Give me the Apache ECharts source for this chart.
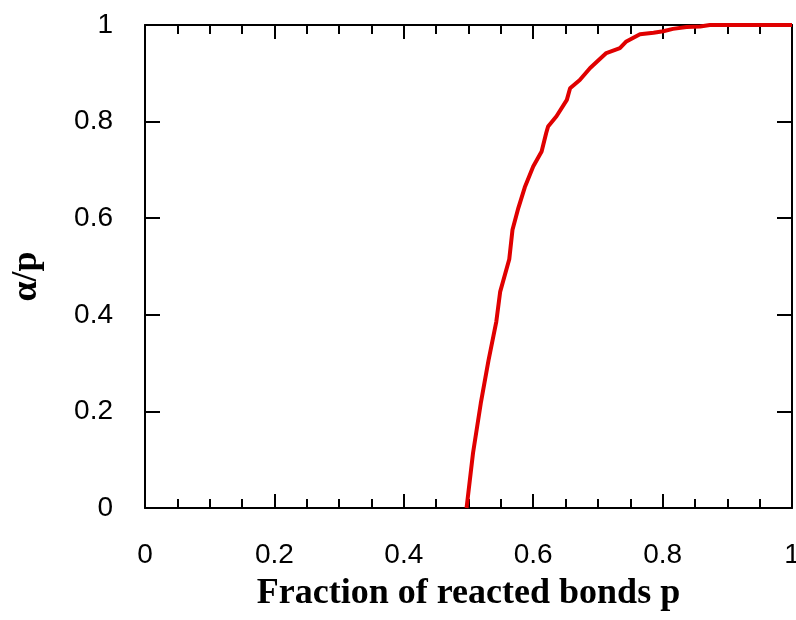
<!DOCTYPE html>
<html><head><meta charset="utf-8">
<script src="https://cdn.jsdelivr.net/npm/echarts@6/dist/echarts.min.js"></script>
<style>html,body{margin:0;padding:0;background:#fff}#c{width:796px;height:620px}</style>
</head><body><div id="c"></div>
<script>
var pValues = [0.497,0.507,0.519,0.531,0.543,0.549,0.563,0.568,0.577,0.587,0.600,0.613,0.620,0.623,0.636,0.652,0.657,0.672,0.688,0.713,0.734,0.744,0.765,0.786,0.801,0.816,0.837,0.858,0.873,0.9,0.95,1.0];
var alphaOverP = [0,0.114,0.217,0.306,0.386,0.448,0.515,0.576,0.621,0.664,0.707,0.738,0.776,0.790,0.811,0.845,0.869,0.886,0.911,0.942,0.952,0.966,0.981,0.984,0.987,0.992,0.996,0.997,1.0,1.0,1.0,1.0];
var xTitle = 'Fraction of reacted bonds p';
var yTitle = 'α/p';

var chart = echarts.init(document.getElementById('c'));
var data = pValues.map(function(p,i){return [p, alphaOverP[i]];});
var lineStyle = {color:'#000', width:2};
var tickStyle = {color:'#000', width:2};
var labelFont = 'Liberation Sans, Arial, sans-serif';
var titleFont = 'Liberation Serif, Times New Roman, serif';
function fmt(v){return String(Math.round(v*10)/10);}
function xAxis(show, pos){
  return {type:'value', min:0, max:1, interval:0.2, position:pos,
    axisLine:{show:true, onZero:false, lineStyle:lineStyle},
    axisTick:{show:true, inside:true, length:14, lineStyle:tickStyle},
    minorTick:{show:true, splitNumber:4, length:9, lineStyle:{color:'#000', width:2}},
    splitLine:{show:false},
    axisLabel:{show:show, color:'#000', fontSize:28, fontFamily:labelFont, margin:33, formatter:fmt},
    name: show ? xTitle : '', nameLocation:'middle', nameGap:68,
    nameTextStyle:{color:'#000', fontSize:36, fontWeight:'bold', fontFamily:titleFont}
  };
}
function yAxis(show, pos){
  return {type:'value', min:0, max:1, interval:0.2, position:pos,
    axisLine:{show:true, onZero:false, lineStyle:lineStyle},
    axisTick:{show:true, inside:true, length:15, lineStyle:tickStyle},
    splitLine:{show:false},
    axisLabel:{show:show, color:'#000', fontSize:28, fontFamily:labelFont, margin:32, formatter:fmt},
    name: show ? yTitle : '', nameLocation:'middle', nameGap:100, nameRotate:90,
    nameTextStyle:{color:'#000', fontSize:36, fontWeight:'bold', fontFamily:titleFont, padding:[0,20,0,0]}
  };
}
chart.setOption({
  animation:false,
  backgroundColor:'#fff',
  grid:{left:145, right:4, top:25, bottom:112, outerBoundsMode:'none', containLabel:false},
  xAxis:[xAxis(true,'bottom'), xAxis(false,'top')],
  yAxis:[yAxis(true,'left'), yAxis(false,'right')],
  series:[{type:'line', data:data, showSymbol:false, xAxisIndex:0, yAxisIndex:0,
    lineStyle:{color:'#e00000', width:4}, clip:false}]
});
</script></body></html>
